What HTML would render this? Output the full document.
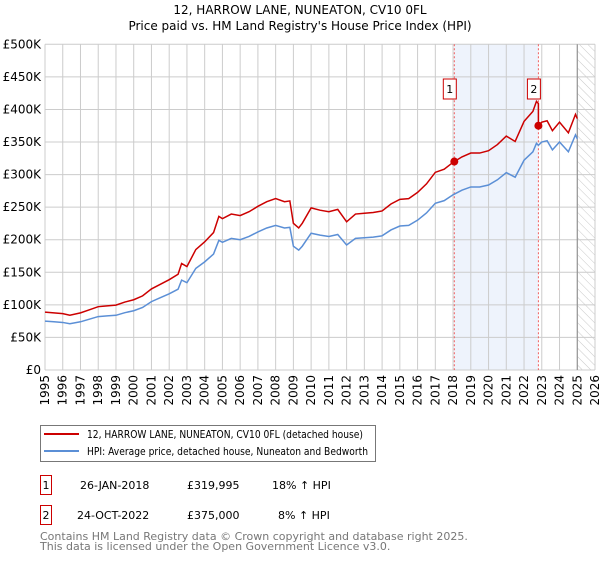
<!DOCTYPE html>
<html><head><meta charset="utf-8"><style>
body{margin:0;background:#fff;font-family:"DejaVu Sans","Liberation Sans",sans-serif;}
svg text{font-family:"DejaVu Sans","Liberation Sans",sans-serif;}
</style></head><body>
<svg id="c" width="600" height="560" viewBox="0 0 600 560" xmlns="http://www.w3.org/2000/svg">
<defs><pattern id="hatch" width="6" height="6" patternUnits="userSpaceOnUse" patternTransform="rotate(-45)"><line x1="0" y1="0" x2="0" y2="6" stroke="#bbb" stroke-width="0.8"/></pattern></defs>
<text x="300" y="14" text-anchor="middle" font-size="12">12, HARROW LANE, NUNEATON, CV10 0FL</text>
<text x="300" y="30" text-anchor="middle" font-size="12">Price paid vs. HM Land Registry's House Price Index (HPI)</text>
<g id="plot"></g>
<g>
<rect x="40.5" y="425.5" width="335" height="36" fill="#fff" stroke="#777"/>
<line x1="44" y1="434" x2="79" y2="434" stroke="#cc0000" stroke-width="2"/>
<text x="87" y="438" font-size="11" textLength="276" lengthAdjust="spacingAndGlyphs">12, HARROW LANE, NUNEATON, CV10 0FL (detached house)</text>
<line x1="44" y1="451" x2="79" y2="451" stroke="#5b8fd6" stroke-width="2"/>
<text x="87" y="455" font-size="11" textLength="281" lengthAdjust="spacingAndGlyphs">HPI: Average price, detached house, Nuneaton and Bedworth</text>
</g>
<g font-size="11">
<rect x="40.5" y="475.5" width="11" height="19" fill="#fff" stroke="#cc0000"/>
<text x="46" y="489" text-anchor="middle">1</text>
<text x="80" y="489">26-JAN-2018</text><text x="187" y="489">£319,995</text><text x="272" y="489">18% ↑ HPI</text>
<rect x="40.5" y="505.5" width="11" height="19" fill="#fff" stroke="#cc0000"/>
<text x="46" y="519" text-anchor="middle">2</text>
<text x="77" y="519">24-OCT-2022</text><text x="187" y="519">£375,000</text><text x="278" y="519">8% ↑ HPI</text>
</g>
<text x="40" y="540" font-size="11" fill="#777">Contains HM Land Registry data © Crown copyright and database right 2025.</text>
<text x="40" y="550" font-size="11" fill="#777">This data is licensed under the Open Government Licence v3.0.</text>
</svg>
<script>
const hpiYears=[1995,1995.5,1996,1996.4,1997,1997.5,1998,1998.5,1999,1999.5,2000,2000.5,2001,2001.5,2002,2002.5,2002.7,2003,2003.5,2004,2004.5,2004.8,2005,2005.5,2006,2006.5,2007,2007.5,2008,2008.5,2008.8,2009,2009.3,2009.5,2010,2010.5,2011,2011.5,2012,2012.5,2013,2013.5,2014,2014.5,2015,2015.5,2016,2016.5,2017,2017.5,2018,2018.5,2019,2019.5,2020,2020.5,2021,2021.5,2022,2022.5,2022.7,2022.81,2023,2023.3,2023.6,2024,2024.5,2024.9,2025.0];
const hpiValues=[75,74,73,71,74,78,82,83,84,88,91,96,105,111,117,124,138,134,156,166,178,199,196,202,200,205,212,218,222,218,219,190,184,190,210,207,205,208,192,202,203,204,206,215,221,222,230,241,256,260,269,276,281,281,284,292,303,296,322,335,348,345,350,352,338,350,335,361,355];
const saleYears=[2018.07,2022.81];
const salePrices=[319.995,375];
const saleLabels=["1","2"];
const yTicks=[0,50,100,150,200,250,300,350,400,450,500];
const yTickLabels=["£0","£50K","£100K","£150K","£200K","£250K","£300K","£350K","£400K","£450K","£500K"];
const xTicks=[1995,1996,1997,1998,1999,2000,2001,2002,2003,2004,2005,2006,2007,2008,2009,2010,2011,2012,2013,2014,2015,2016,2017,2018,2019,2020,2021,2022,2023,2024,2025,2026];
const X0=45,X1=595,Y0=370,Y1=44.3,XMIN=1995,XMAX=2026,YMAX=500,DATA_END=2025.0;
const xs=t=>X0+(t-XMIN)/(XMAX-XMIN)*(X1-X0);
const ys=v=>Y0-v/YMAX*(Y0-Y1);
const NS="http://www.w3.org/2000/svg";
const g=document.getElementById('plot');
function el(tag,attrs,parent){const e=document.createElementNS(NS,tag);for(const k in attrs)e.setAttribute(k,attrs[k]);(parent||g).appendChild(e);return e;}
function hpiAt(t){for(let i=1;i<hpiYears.length;i++){if(t<=hpiYears[i]){const f=(t-hpiYears[i-1])/(hpiYears[i]-hpiYears[i-1]);return hpiValues[i-1]+f*(hpiValues[i]-hpiValues[i-1]);}}return hpiValues[hpiValues.length-1];}
const sh=el('rect',{x:xs(saleYears[0]),y:Y1,width:xs(saleYears[1])-xs(saleYears[0]),height:Y0-Y1,fill:'#eef3fc'});


const ht=el('rect',{x:xs(DATA_END),y:Y1,width:X1-xs(DATA_END),height:Y0-Y1,fill:'url(#hatch)'});


yTicks.forEach((v,i)=>{
  const l=el('line',{x1:X0,x2:X1,y1:ys(v),y2:ys(v),stroke:'#ccc','stroke-width':1});
  
  
  const t=el('text',{x:X0-4,y:ys(v)+4,'text-anchor':'end','font-size':12});
  
  
  t.textContent=yTickLabels[i];
});
xTicks.forEach(yr=>{
  const l=el('line',{x1:xs(yr),x2:xs(yr),y1:Y1,y2:Y0,stroke:'#ccc','stroke-width':1});
  
  
  const t=el('text',{x:0,y:0,'text-anchor':'end','font-size':12,transform:`translate(${xs(yr)+4},${Y0+5}) rotate(-90)`});
  
  
  t.textContent=yr;
});
const vl=el('line',{x1:xs(DATA_END),x2:xs(DATA_END),y1:Y1,y2:Y0,stroke:'#888','stroke-width':1});


saleYears.forEach(s=>{
  const l=el('line',{x1:xs(s),x2:xs(s),y1:Y1,y2:Y0,stroke:'#f06060','stroke-width':1,'stroke-dasharray':'2,2'});
  
  
});
const hp=el('polyline',{points:hpiYears.map((t,i)=>xs(t)+','+ys(hpiValues[i])).join(' '),fill:'none',stroke:'#5b8fd6','stroke-width':1.5});


const r1=salePrices[0]/hpiAt(saleYears[0]),r2=salePrices[1]/hpiAt(saleYears[1]);
const pts=[];let done=false;
hpiYears.forEach((t,i)=>{
  if(t>saleYears[1]&&!done){pts.push([saleYears[1],hpiAt(saleYears[1])*r1]);pts.push([saleYears[1],salePrices[1]]);done=true;}
  const r=t<=saleYears[1]?r1:r2;pts.push([t,hpiValues[i]*r]);
});
const pp=el('polyline',{points:pts.map(p=>xs(p[0])+','+ys(p[1])).join(' '),fill:'none',stroke:'#cc0000','stroke-width':1.5});


saleYears.forEach((s,i)=>{
  const c=el('circle',{cx:xs(s),cy:ys(salePrices[i]),r:4,fill:'#cc0000'});
  
  
  const b=el('rect',{x:xs(s)-11,y:79,width:13,height:20,fill:'#fff',stroke:'#cc0000'});
  
  
  const t=el('text',{x:xs(s)-4.5,y:93,'text-anchor':'middle','font-size':11});
  
  
  t.textContent=saleLabels[i];
});
</script>
</body></html>
